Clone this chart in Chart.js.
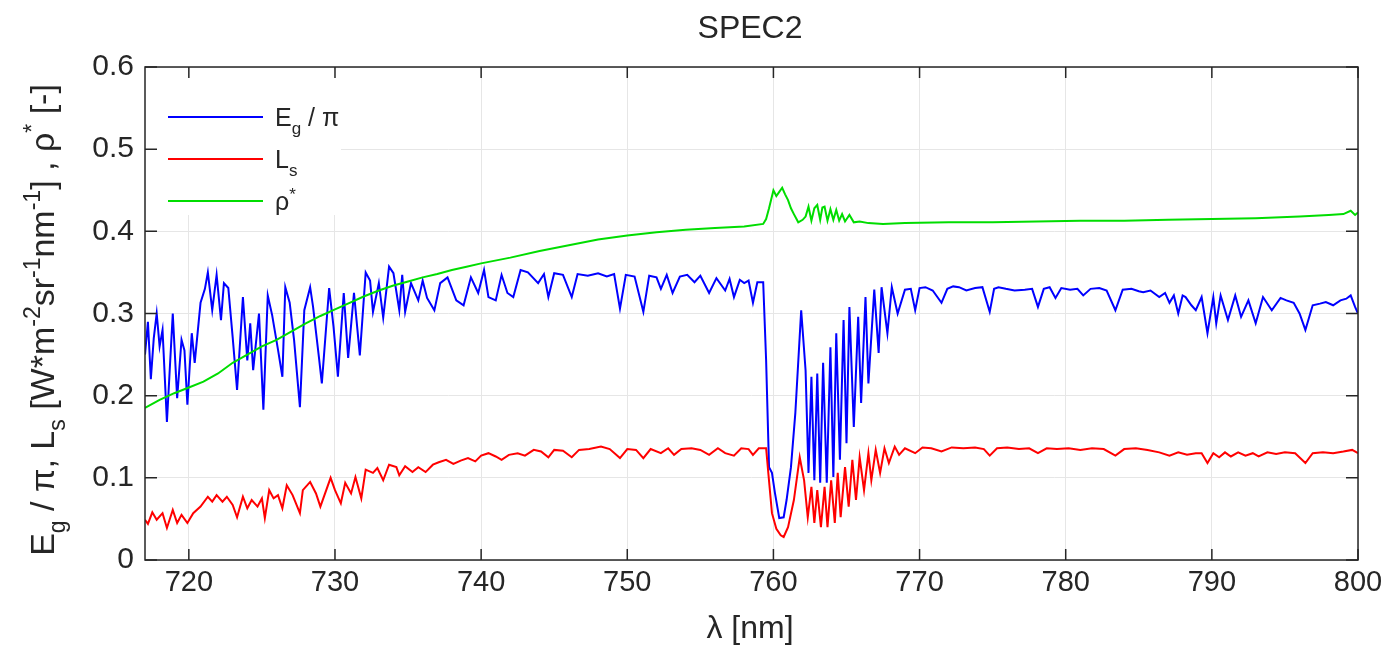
<!DOCTYPE html>
<html>
<head>
<meta charset="utf-8">
<script src="https://cdn.jsdelivr.net/npm/chart.js@4.4.1/dist/chart.umd.min.js"></script>
<style>
  html, body { margin: 0; padding: 0; background: #fff; }
  #wrap { width: 1393px; height: 647px; }
</style>
</head>
<body>
<div id="wrap"><canvas id="spec" width="1393" height="647"></canvas></div>
<script>
// values (wavelength in nm)
const blueWl = [717.0, 717.2, 717.4, 717.6, 717.8, 718.0, 718.2, 718.5, 718.9, 719.2, 719.5, 719.7, 719.9, 720.2, 720.4, 720.8, 721.1, 721.3, 721.6, 721.9,
  722.2, 722.4, 722.7, 723.0, 723.3, 723.7, 724.0, 724.2, 724.4, 724.8, 725.1, 725.4, 725.7, 726.1, 726.4, 726.6, 726.9, 727.2, 727.6, 727.9,
  728.3, 728.5, 728.9, 729.1, 729.6, 729.9, 730.2, 730.6, 730.9, 731.3, 731.7, 732.1, 732.4, 732.6, 733.0, 733.3, 733.7, 734.0, 734.4, 734.6,
  734.8, 735.2, 735.7, 736.0, 736.3, 736.8, 737.2, 737.7, 738.3, 738.8, 739.3, 739.8, 740.2, 740.5, 741.0, 741.4, 741.8, 742.2, 742.7, 743.2,
  743.9, 744.3, 744.6, 745.0, 745.6, 746.2, 746.6, 747.3, 748.0, 748.6, 749.1, 749.5, 749.9, 750.5, 751.1, 751.5, 752.0, 752.3, 752.7, 753.1,
  753.6, 754.1, 754.6, 755.0, 755.6, 756.1, 756.7, 757.0, 757.3, 757.7, 758.0, 758.3, 758.6, 758.9, 759.3, 759.5, 759.7, 759.9, 760.1, 760.4,
  760.7, 760.9, 761.2, 761.5, 761.9, 762.2, 762.4, 762.6, 762.8, 763.0, 763.2, 763.4, 763.65, 763.9, 764.1, 764.3, 764.55, 764.8, 765.0, 765.2,
  765.5, 765.8, 766.0, 766.3, 766.5, 766.9, 767.2, 767.4, 767.8, 768.1, 768.5, 769.0, 769.4, 769.7, 770.0, 770.4, 770.9, 771.5, 771.9, 772.3,
  772.7, 773.2, 773.8, 774.3, 774.8, 775.1, 775.4, 775.9, 776.5, 777.2, 777.7, 778.1, 778.5, 778.9, 779.3, 779.7, 780.3, 780.8, 781.2, 781.7,
  782.3, 782.8, 783.4, 783.9, 784.5, 785.0, 785.3, 785.8, 786.4, 786.8, 787.1, 787.4, 787.7, 788.0, 788.2, 788.6, 788.9, 789.3, 789.7, 790.1,
  790.3, 790.6, 791.1, 791.6, 792.0, 792.5, 793.0, 793.5, 794.1, 794.7, 795.1, 795.6, 796.0, 796.4, 796.9, 797.4, 797.8, 798.3, 798.8, 799.2,
  799.5, 799.8, 800.0];
const blueVal = [0.25, 0.29, 0.22, 0.27, 0.30, 0.26, 0.28, 0.168, 0.30, 0.197, 0.268, 0.255, 0.189, 0.276, 0.24, 0.313, 0.33, 0.35, 0.304, 0.347,
  0.292, 0.337, 0.331, 0.271, 0.207, 0.32, 0.243, 0.288, 0.231, 0.30, 0.183, 0.322, 0.298, 0.256, 0.223, 0.332, 0.313, 0.268, 0.186, 0.304,
  0.332, 0.308, 0.247, 0.215, 0.331, 0.284, 0.223, 0.325, 0.246, 0.325, 0.249, 0.35, 0.34, 0.302, 0.337, 0.295, 0.357, 0.349, 0.304, 0.347,
  0.302, 0.337, 0.316, 0.34, 0.319, 0.304, 0.337, 0.344, 0.316, 0.31, 0.344, 0.325, 0.353, 0.32, 0.316, 0.347, 0.325, 0.32, 0.353, 0.35,
  0.337, 0.348, 0.32, 0.349, 0.347, 0.32, 0.348, 0.346, 0.349, 0.345, 0.348, 0.306, 0.347, 0.345, 0.302, 0.346, 0.344, 0.33, 0.347, 0.325,
  0.345, 0.347, 0.338, 0.346, 0.325, 0.343, 0.328, 0.342, 0.32, 0.341, 0.337, 0.34, 0.313, 0.338, 0.338, 0.243, 0.113, 0.106, 0.082, 0.051,
  0.052, 0.073, 0.113, 0.179, 0.304, 0.231, 0.106, 0.223, 0.097, 0.227, 0.094, 0.24, 0.094, 0.259, 0.101, 0.276, 0.122, 0.292, 0.142, 0.308,
  0.162, 0.296, 0.191, 0.32, 0.215, 0.329, 0.252, 0.332, 0.276, 0.332, 0.30, 0.329, 0.33, 0.304, 0.331, 0.332, 0.328, 0.313, 0.33, 0.333,
  0.332, 0.328, 0.331, 0.332, 0.302, 0.33, 0.332, 0.33, 0.328, 0.329, 0.33, 0.308, 0.33, 0.332, 0.319, 0.331, 0.329, 0.33, 0.322, 0.33,
  0.331, 0.328, 0.304, 0.329, 0.33, 0.327, 0.326, 0.328, 0.32, 0.325, 0.313, 0.322, 0.30, 0.322, 0.32, 0.31, 0.304, 0.32, 0.276, 0.32,
  0.288, 0.322, 0.292, 0.322, 0.296, 0.316, 0.288, 0.32, 0.304, 0.319, 0.316, 0.313, 0.30, 0.28, 0.31, 0.312, 0.314, 0.31, 0.316, 0.318,
  0.322, 0.308, 0.30];

const redWl = [717.0, 717.2, 717.5, 717.8, 718.2, 718.5, 718.9, 719.2, 719.5, 719.9, 720.3, 720.8, 721.3, 721.6, 721.9, 722.3, 722.6, 723.0, 723.3, 723.7,
  724.0, 724.3, 724.7, 725.0, 725.2, 725.5, 725.8, 726.1, 726.4, 726.7, 727.1, 727.6, 727.8, 728.3, 728.7, 729.0, 729.7, 730.0, 730.4, 730.7,
  731.1, 731.4, 731.8, 732.1, 732.6, 732.9, 733.3, 733.7, 734.2, 734.4, 734.8, 735.3, 735.7, 736.2, 736.7, 737.1, 737.6, 738.1, 738.6, 739.1,
  739.6, 740.0, 740.5, 741.0, 741.4, 741.9, 742.5, 743.0, 743.6, 744.1, 744.6, 745.0, 745.6, 746.2, 746.7, 747.4, 748.2, 748.8, 749.5, 750.0,
  750.6, 751.1, 751.6, 752.3, 752.8, 753.2, 753.7, 754.4, 755.0, 755.6, 756.2, 756.7, 757.3, 757.8, 758.3, 758.6, 759.0, 759.5, 759.65, 759.9,
  760.2, 760.5, 760.7, 761.0, 761.4, 761.8, 762.1, 762.35, 762.6, 762.8, 763.0, 763.25, 763.5, 763.7, 763.95, 764.2, 764.4, 764.6, 764.9, 765.15,
  765.4, 765.65, 765.9, 766.2, 766.5, 766.7, 767.0, 767.3, 767.6, 767.9, 768.3, 768.6, 769.0, 769.7, 770.2, 770.8, 771.5, 772.2, 773.0, 773.8,
  774.4, 774.8, 775.3, 776.0, 776.8, 777.5, 778.1, 778.7, 779.4, 780.2, 781.0, 781.8, 782.6, 783.4, 784.0, 784.8, 785.6, 786.4, 787.1, 787.7,
  788.3, 788.9, 789.3, 789.7, 790.1, 790.5, 790.9, 791.3, 791.8, 792.3, 792.8, 793.2, 793.8, 794.4, 795.0, 795.7, 796.4, 796.9, 797.6, 798.3,
  799.0, 799.6, 800.0];
const redVal = [0.049, 0.044, 0.058, 0.049, 0.057, 0.039, 0.061, 0.045, 0.055, 0.045, 0.057, 0.065, 0.077, 0.071, 0.079, 0.071, 0.077, 0.067, 0.052, 0.077,
  0.063, 0.073, 0.065, 0.075, 0.051, 0.085, 0.075, 0.079, 0.063, 0.091, 0.079, 0.057, 0.085, 0.095, 0.081, 0.065, 0.10, 0.085, 0.069, 0.094,
  0.081, 0.101, 0.075, 0.11, 0.106, 0.112, 0.097, 0.116, 0.113, 0.103, 0.114, 0.107, 0.113, 0.107, 0.116, 0.119, 0.122, 0.117, 0.121, 0.124,
  0.12, 0.127, 0.13, 0.126, 0.122, 0.128, 0.13, 0.127, 0.134, 0.132, 0.125, 0.134, 0.133, 0.125, 0.134, 0.135, 0.138, 0.135, 0.124, 0.135,
  0.134, 0.124, 0.135, 0.13, 0.136, 0.128, 0.135, 0.136, 0.134, 0.128, 0.136, 0.13, 0.127, 0.136, 0.135, 0.128, 0.136, 0.136, 0.106, 0.057,
  0.038, 0.03, 0.028, 0.04, 0.073, 0.125, 0.097, 0.052, 0.089, 0.045, 0.085, 0.04, 0.089, 0.04, 0.097, 0.045, 0.106, 0.052, 0.113, 0.065,
  0.122, 0.073, 0.125, 0.085, 0.13, 0.097, 0.134, 0.106, 0.136, 0.118, 0.138, 0.128, 0.136, 0.13, 0.137, 0.136, 0.132, 0.137, 0.136, 0.137,
  0.135, 0.127, 0.136, 0.137, 0.135, 0.136, 0.13, 0.136, 0.135, 0.136, 0.134, 0.136, 0.135, 0.127, 0.135, 0.136, 0.134, 0.131, 0.127, 0.131,
  0.128, 0.13, 0.13, 0.118, 0.13, 0.125, 0.131, 0.126, 0.131, 0.127, 0.13, 0.126, 0.131, 0.129, 0.131, 0.13, 0.118, 0.13, 0.131, 0.13,
  0.132, 0.134, 0.13];

const greenWl = [717.0, 718.0, 719.0, 720.0, 721.0, 722.0, 723.0, 724.0, 725.0, 726.0, 727.0, 728.0, 729.0, 730.0, 731.0, 732.0, 733.0, 734.0, 735.0, 736.0,
  737.0, 738.0, 739.0, 740.0, 742.0, 744.0, 746.0, 748.0, 750.0, 752.0, 754.0, 756.0, 758.0, 759.3, 759.5, 759.7, 760.0, 760.2, 760.4, 760.6,
  760.8, 761.0, 761.2, 761.4, 761.7, 762.0, 762.2, 762.4, 762.6, 762.8, 763.0, 763.2, 763.35, 763.5, 763.7, 763.9, 764.1, 764.3, 764.5, 764.7,
  764.9, 765.2, 765.5, 765.9, 766.5, 767.5, 769.0, 772.0, 775.0, 778.0, 781.0, 784.0, 787.0, 790.0, 793.0, 796.0, 798.0, 799.0, 799.5, 799.8,
  800.0];
const greenVal = [0.185, 0.195, 0.203, 0.21, 0.217, 0.227, 0.24, 0.25, 0.26, 0.268, 0.278, 0.288, 0.297, 0.305, 0.313, 0.321, 0.328, 0.334, 0.339, 0.344,
  0.348, 0.353, 0.357, 0.361, 0.368, 0.376, 0.383, 0.39, 0.395, 0.399, 0.402, 0.404, 0.406, 0.409, 0.415, 0.428, 0.45, 0.443, 0.448, 0.453,
  0.445, 0.438, 0.428, 0.421, 0.411, 0.414, 0.418, 0.43, 0.413, 0.428, 0.432, 0.414, 0.429, 0.43, 0.413, 0.427, 0.414, 0.426, 0.413, 0.421,
  0.412, 0.42, 0.411, 0.412, 0.41, 0.409, 0.41, 0.411, 0.411, 0.412, 0.413, 0.413, 0.414, 0.415, 0.416, 0.418, 0.42, 0.421, 0.425, 0.42,
  0.423];

const xTicks = [720, 730, 740, 750, 760, 770, 780, 790, 800];
const yTicks = [0, 0.1, 0.2, 0.3, 0.4, 0.5, 0.6];

const FONT = "'Liberation Sans', Arial, Helvetica, sans-serif";
const TEXT = '#262626';

function toPoints(wl, val) {
    return wl.map((w, i) => ({ x: w, y: val[i] }));
}

// text with sub/superscripts, drawn piece by piece
function richWidth(ctx, parts, size, small) {
    let w = 0;
    parts.forEach(p => {
        ctx.font = ((p.sub || p.sup) ? small : size) + 'px ' + FONT;
        w += ctx.measureText(p.t).width;
    });
    return w;
}
function drawRich(ctx, parts, x, y, size, small) {
    let cx = x;
    parts.forEach(p => {
        ctx.font = ((p.sub || p.sup) ? small : size) + 'px ' + FONT;
        const dy = p.sub ? size * 0.32 : (p.sup ? -size * 0.42 : 0);
        ctx.fillText(p.t, cx, y + dy);
        cx += ctx.measureText(p.t).width;
    });
}

const yTitle = [
    {t: 'E'}, {t: 'g', sub: true}, {t: ' / π, L'}, {t: 's', sub: true}, {t: ' [W*m'}, {t: '-2', sup: true},
    {t: 'sr'}, {t: '-1', sup: true}, {t: 'nm'}, {t: '-1', sup: true}, {t: '] , ρ'}, {t: '*', sup: true}, {t: ' [-]'}
];

const legendItems = [
    {color: '#0000ff', parts: [{t: 'E'}, {t: 'g', sub: true}, {t: ' / π'}]},
    {color: '#ff0000', parts: [{t: 'L'}, {t: 's', sub: true}]},
    {color: '#00dd00', parts: [{t: 'ρ'}, {t: '*', sup: true}]}
];

const decorations = {
    id: 'decorations',
    afterDatasetsDraw(chart) {
        const ctx = chart.ctx;
        const a = chart.chartArea;
        const xs = chart.scales.x;
        const ys = chart.scales.y;
        ctx.save();

        // legend
        ctx.fillStyle = '#fff';
        ctx.fillRect(a.left + 2, a.top + 2, 194, 146);
        ctx.textBaseline = 'alphabetic';
        ctx.textAlign = 'left';
        legendItems.forEach((item, i) => {
            const ly = 117 + i * 42;
            ctx.strokeStyle = item.color;
            ctx.lineWidth = 1.8;
            ctx.beginPath();
            ctx.moveTo(168, ly);
            ctx.lineTo(263, ly);
            ctx.stroke();
            ctx.fillStyle = TEXT;
            drawRich(ctx, item.parts, 275, ly + 9, 25, 17);
        });

        // box and inward ticks
        ctx.strokeStyle = '#262626';
        ctx.lineWidth = 1.5;
        ctx.strokeRect(a.left, a.top, a.right - a.left, a.bottom - a.top);
        ctx.beginPath();
        xs.ticks.forEach(t => {
            const px = xs.getPixelForValue(t.value);
            ctx.moveTo(px, a.bottom); ctx.lineTo(px, a.bottom - 11);
            ctx.moveTo(px, a.top); ctx.lineTo(px, a.top + 11);
        });
        ys.ticks.forEach(t => {
            const py = ys.getPixelForValue(t.value);
            ctx.moveTo(a.left, py); ctx.lineTo(a.left + 12, py);
            ctx.moveTo(a.right, py); ctx.lineTo(a.right - 12, py);
        });
        ctx.stroke();

        // titles
        ctx.fillStyle = TEXT;
        ctx.font = '32px ' + FONT;
        ctx.textAlign = 'center';
        ctx.textBaseline = 'middle';
        ctx.fillText('SPEC2', 750, 29);
        ctx.fillText('λ [nm]', 750, 629);

        ctx.textAlign = 'left';
        ctx.textBaseline = 'alphabetic';
        ctx.translate(54, 320);
        ctx.rotate(-Math.PI / 2);
        const w = richWidth(ctx, yTitle, 34, 23);
        drawRich(ctx, yTitle, -w / 2, 0, 34, 23);
        ctx.restore();
    }
};

const chart = new Chart(document.getElementById('spec').getContext('2d'), {
    type: 'line',
    data: {
        datasets: [
            { label: 'Eg / π', data: toPoints(blueWl, blueVal), borderColor: '#0000ff', borderWidth: 2, order: 3 },
            { label: 'Ls', data: toPoints(redWl, redVal), borderColor: '#ff0000', borderWidth: 2, order: 2 },
            { label: 'ρ*', data: toPoints(greenWl, greenVal), borderColor: '#00dd00', borderWidth: 2, order: 1 }
        ]
    },
    options: {
        responsive: false,
        animation: false,
        layout: { padding: { left: 0, right: 35, top: 67, bottom: 0 } },
        elements: { point: { radius: 0 }, line: { tension: 0 } },
        plugins: { legend: { display: false }, tooltip: { enabled: false } },
        scales: {
            x: {
                type: 'linear',
                min: 717,
                max: 800,
                afterFit: s => { s.height = 87; },
                afterBuildTicks: s => { s.ticks = xTicks.map(v => ({ value: v })); },
                grid: { color: '#e6e6e6', drawTicks: false, tickLength: 0 },
                border: { display: false },
                ticks: { color: TEXT, padding: 6, maxRotation: 0, font: { size: 29, family: FONT } }
            },
            y: {
                min: 0,
                max: 0.6,
                afterFit: s => { s.width = 145; },
                afterBuildTicks: s => { s.ticks = yTicks.map(v => ({ value: v })); },
                grid: { color: '#e6e6e6', drawTicks: false, tickLength: 0 },
                border: { display: false },
                ticks: { color: TEXT, padding: 11, font: { size: 30, family: FONT }, callback: v => String(Math.round(v * 10) / 10) }
            }
        }
    },
    plugins: [decorations]
});
</script>
</body>
</html>
